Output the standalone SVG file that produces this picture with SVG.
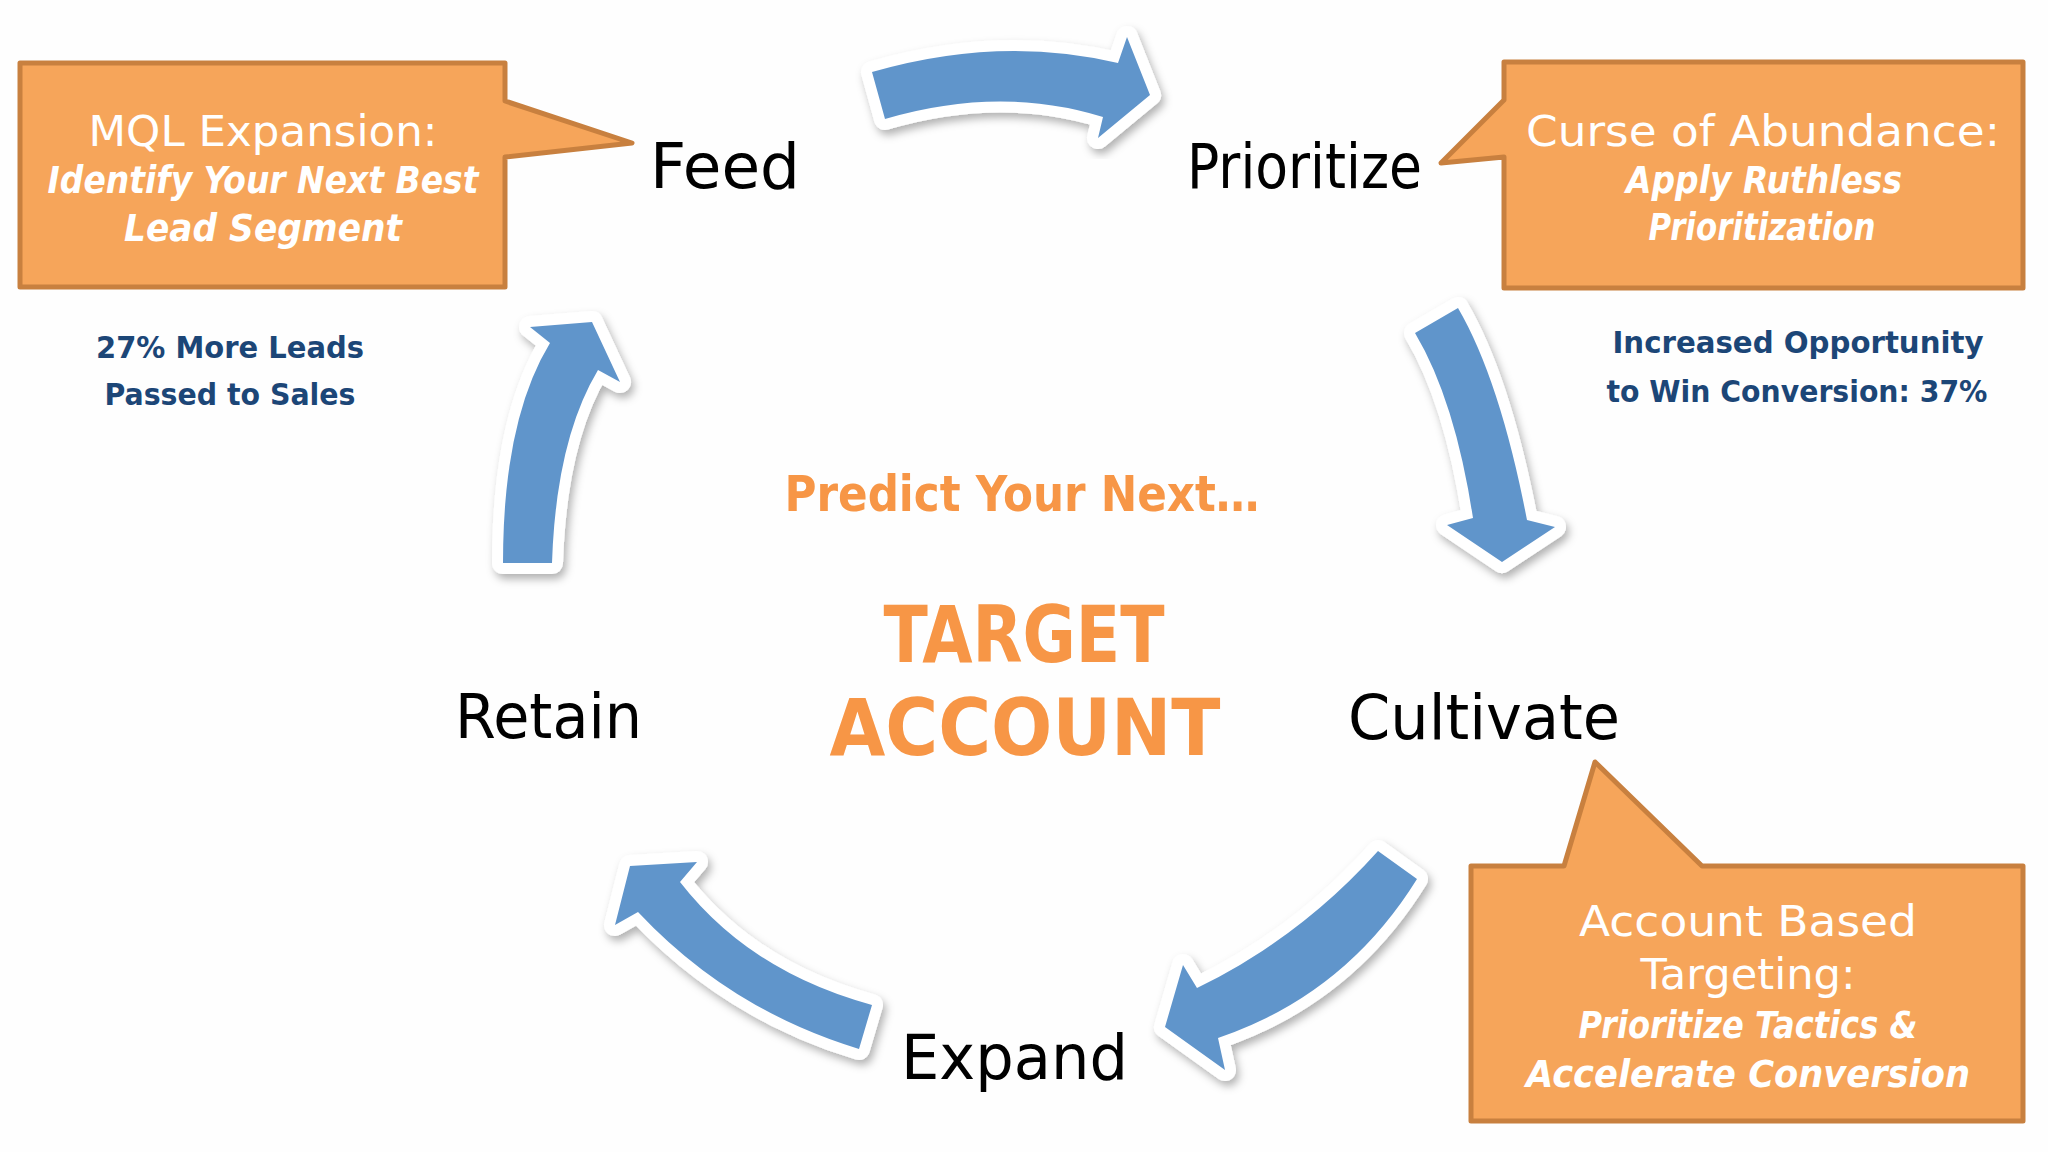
<svg xmlns="http://www.w3.org/2000/svg" width="2048" height="1152" viewBox="0 0 2048 1152">
<style>
.lbl{font-family:"DejaVu Sans",sans-serif;font-size:62px;fill:#000}
.co{fill:#F6A55A;stroke:#C8803F;stroke-width:5;stroke-linejoin:round}
.cl{font-family:"DejaVu Sans",sans-serif;font-size:43px;fill:#fff;text-anchor:middle}
.cb{font-family:"DejaVu Sans",sans-serif;font-weight:bold;font-style:italic;font-size:37px;fill:#fff;text-anchor:middle}
.st{font-family:"DejaVu Sans Condensed","DejaVu Sans",sans-serif;font-weight:bold;font-size:30px;fill:#1C4677;text-anchor:middle}
.ctr{font-family:"DejaVu Sans Condensed","DejaVu Sans",sans-serif;font-weight:bold;fill:#F79646;text-anchor:middle}
.arr{fill:#6195CB;stroke:#fff;stroke-width:22;paint-order:stroke;stroke-linejoin:round;filter:url(#sh)}
</style>
<defs>
<filter id="sh" x="-20%" y="-20%" width="140%" height="140%">
<feDropShadow dx="3" dy="5" stdDeviation="4" flood-color="#000" flood-opacity="0.3"/>
</filter>
</defs>
<rect width="2048" height="1152" fill="#fefefe"/>

<g id="connectors">
<path class="arr" d="M872,72 Q1000,35 1118,63 L1127,37 L1150,95 L1098,138 L1103,117 Q1000,85 885,119 Z"/>
<path class="arr" d="M1415,333 L1458,308 Q1500,380 1527,520 L1555,527 L1502,562 L1447,525 L1473,518 Q1455,400 1415,333 Z"/>
<path class="arr" d="M1378,851 L1417,879 Q1345,995 1218,1038 L1225,1070 L1165,1027 L1183,965 L1197,988 Q1300,938 1378,851 Z"/>
<path class="arr" d="M630,866 L697,862 L680,882 Q750,972 872,1005 L859,1049 Q730,1010 638,912 L615,925 Z"/>
<path class="arr" d="M503,563 L552,563 Q556,440 598,370 L620,382 L592,322 L530,327 L550,343 Q503,420 503,563 Z"/>
</g>

<g id="callout-mql">
<path class="co" d="M20,63 L505,63 L505,101 L632,143 L505,157 L505,287 L20,287 Z"/>
<text class="cl" x="263" y="146" textLength="349" lengthAdjust="spacingAndGlyphs">MQL Expansion:</text>
<text class="cb" x="263" y="193" textLength="431" lengthAdjust="spacingAndGlyphs">Identify Your Next Best</text>
<text class="cb" x="263" y="241" textLength="278" lengthAdjust="spacingAndGlyphs">Lead Segment</text>
</g>

<g id="callout-curse">
<path class="co" d="M1504,62 L2023,62 L2023,288 L1504,288 L1504,157 L1441,163 L1504,100 Z"/>
<text class="cl" x="1763" y="146" textLength="474" lengthAdjust="spacingAndGlyphs">Curse of Abundance:</text>
<text class="cb" x="1764" y="193" textLength="276" lengthAdjust="spacingAndGlyphs">Apply Ruthless</text>
<text class="cb" x="1762" y="240" textLength="227" lengthAdjust="spacingAndGlyphs">Prioritization</text>
</g>

<g id="callout-abt">
<path class="co" d="M1471,866 L1564,866 L1595,762 L1702,866 L2023,866 L2023,1121 L1471,1121 Z"/>
<text class="cl" x="1748" y="936" textLength="338" lengthAdjust="spacingAndGlyphs">Account Based</text>
<text class="cl" x="1748" y="989" textLength="215" lengthAdjust="spacingAndGlyphs">Targeting:</text>
<text class="cb" x="1748" y="1038" textLength="339" lengthAdjust="spacingAndGlyphs">Prioritize Tactics &amp;</text>
<text class="cb" x="1748" y="1087" textLength="444" lengthAdjust="spacingAndGlyphs">Accelerate Conversion</text>
</g>

<g id="node-feed"><text class="lbl" x="650" y="188" textLength="150" lengthAdjust="spacingAndGlyphs">Feed</text></g>
<g id="node-prioritize"><text class="lbl" x="1187" y="188" textLength="235" lengthAdjust="spacingAndGlyphs">Prioritize</text></g>
<g id="node-cultivate"><text class="lbl" x="1348" y="739" textLength="272" lengthAdjust="spacingAndGlyphs">Cultivate</text></g>
<g id="node-expand"><text class="lbl" x="901" y="1079" textLength="227" lengthAdjust="spacingAndGlyphs">Expand</text></g>
<g id="node-retain"><text class="lbl" x="455" y="738" textLength="187" lengthAdjust="spacingAndGlyphs">Retain</text></g>

<g id="stat-leads">
<text class="st" x="230" y="358" textLength="268" lengthAdjust="spacingAndGlyphs">27% More Leads</text>
<text class="st" x="230" y="405" textLength="251" lengthAdjust="spacingAndGlyphs">Passed to Sales</text>
</g>
<g id="stat-conversion">
<text class="st" x="1798" y="353" textLength="371" lengthAdjust="spacingAndGlyphs">Increased Opportunity</text>
<text class="st" x="1797" y="402" textLength="381" lengthAdjust="spacingAndGlyphs">to Win Conversion: 37%</text>
</g>

<g id="center">
<text class="ctr" x="1022" y="511" font-size="50" textLength="475" lengthAdjust="spacingAndGlyphs">Predict Your Next…</text>
<text class="ctr" x="1024" y="662" font-size="78" textLength="281" lengthAdjust="spacingAndGlyphs">TARGET</text>
<text class="ctr" x="1025" y="755" font-size="78" textLength="391" lengthAdjust="spacingAndGlyphs">ACCOUNT</text>
</g>
</svg>
